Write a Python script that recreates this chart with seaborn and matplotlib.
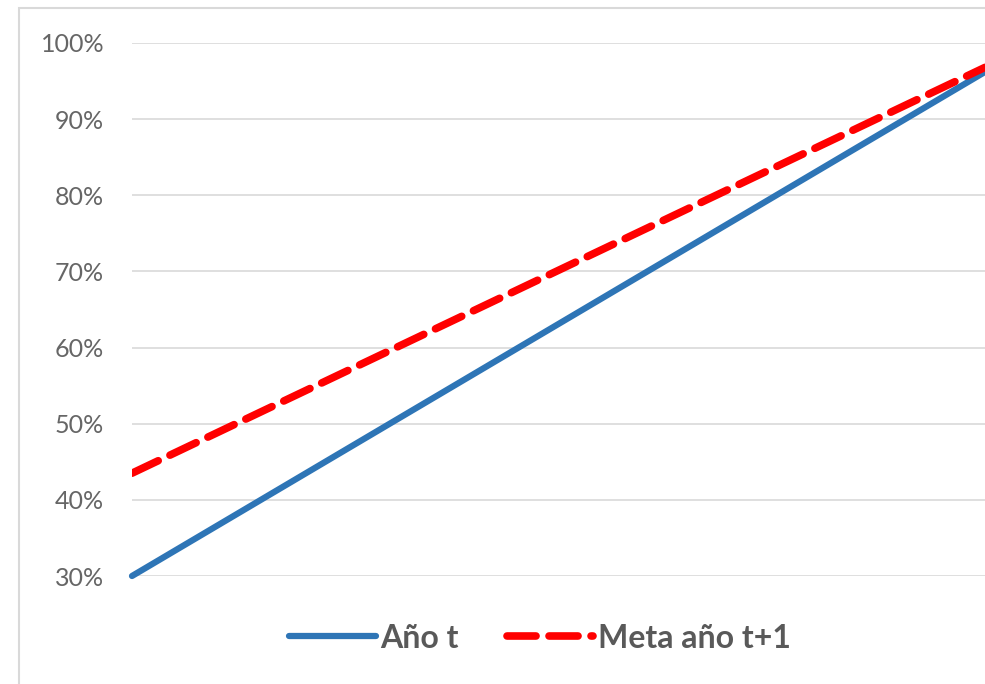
import pandas as pd
import matplotlib.pyplot as plt
import seaborn as sns
from matplotlib.patches import Rectangle

# data (start and end of each line)
periodo = [0, 1]
anio_t = [30.0, 96.2]
meta_t1 = [43.5, 96.8]
yticks = [30, 40, 50, 60, 70, 80, 90, 100]

df = pd.DataFrame({'periodo': periodo, 'Año t': anio_t, 'Meta año t+1': meta_t1})

sns.set_style('white')
plt.rcParams['font.family'] = ['Lato', 'DejaVu Sans']

fig = plt.figure(figsize=[9.85, 6.84], dpi=100)
ax = fig.add_axes([132/985, 1-576/684, 1-132/985, (576-43)/684])

# outer chart frame
fig.patches.append(Rectangle((19/985, -0.05), 1.1, 1-8/684+0.05, transform=fig.transFigure,
                             fill=False, edgecolor='#d9d9d9', lw=1.5))

sns.lineplot(data=df, x='periodo', y='Año t', ax=ax, color='#2e75b6', lw=4.5,
             solid_capstyle='round', label='Año t', clip_on=False)
sns.lineplot(data=df, x='periodo', y='Meta año t+1', ax=ax, color='#ff0000', lw=5.5,
             dashes=(3.8, 1.7), dash_capstyle='round', label='Meta año t+1')

ax.set_xlim(0, 1)
ax.set_ylim(30, 100)
ax.set_yticks(yticks)
ax.set_yticklabels([f'{v}%' for v in yticks], color='#666666', fontsize=18)
ax.set_xticks([])
ax.set(xlabel='', ylabel='')
ax.yaxis.grid(True, color='#d9d9d9', lw=1.2)
ax.tick_params(axis='y', length=0, pad=20)
sns.despine(ax=ax, left=True, bottom=True)

ax.get_legend().remove()
h, l = ax.get_legend_handles_labels()
leg = fig.legend(h, l, loc='center', bbox_to_anchor=(540/985, 1-638/684), ncol=2,
                 frameon=False, handlelength=2.7, handletextpad=0.15, columnspacing=1.5,
                 prop={'size': 23, 'weight': 'bold'})
for t in leg.get_texts():
    t.set_color('#595959')

plt.savefig('out.png', dpi=100)
